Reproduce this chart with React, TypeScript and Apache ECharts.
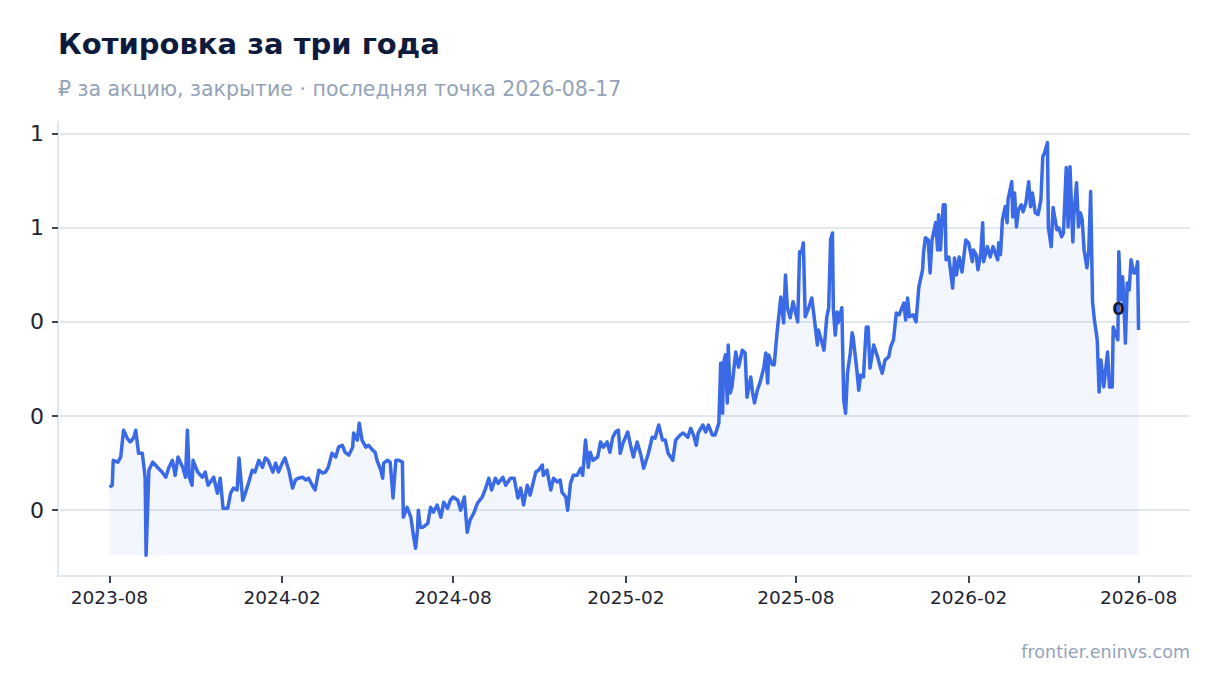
import { useEffect, useRef } from "react"
import * as echarts from "echarts"

// начало ряда и шаг (день) — точки заданы как [смещение в днях, цена]
const START = Date.UTC(2023, 7, 17)
const DAY = 86400000

const quotes2023: [number, number][] = [
  [0, 0.449], [3, 0.453], [4, 0.506], [9, 0.502], [12, 0.513], [15, 0.57], [19, 0.553], [22, 0.545],
  [24, 0.549], [26, 0.555], [28, 0.57], [31, 0.521], [35, 0.521], [38, 0.47], [39, 0.304], [42, 0.485],
  [46, 0.502], [49, 0.496], [52, 0.489], [56, 0.481], [60, 0.47], [63, 0.489], [67, 0.506], [70, 0.474],
  [73, 0.513], [78, 0.491], [81, 0.47], [83, 0.57], [85, 0.47], [88, 0.453], [89, 0.506], [94, 0.481],
  [99, 0.47], [102, 0.481], [105, 0.453], [111, 0.47], [115, 0.436], [118, 0.468], [121, 0.404],
  [126, 0.404], [129, 0.436], [132, 0.447], [136, 0.443],
]

const quotes2024: [number, number][] = [
  [138, 0.511], [142, 0.421], [145, 0.438], [148, 0.457], [152, 0.485], [155, 0.481], [159, 0.506],
  [163, 0.491], [166, 0.511], [169, 0.506], [174, 0.481], [177, 0.5], [180, 0.481], [184, 0.5],
  [187, 0.511], [191, 0.485], [195, 0.447], [198, 0.464], [201, 0.468], [206, 0.47], [209, 0.464],
  [212, 0.468], [216, 0.453], [219, 0.443], [223, 0.485], [227, 0.479], [230, 0.481], [233, 0.491],
  [237, 0.521], [241, 0.513], [244, 0.534], [248, 0.538], [251, 0.523], [255, 0.517], [259, 0.534],
  [260, 0.564], [264, 0.549], [266, 0.585], [269, 0.549], [273, 0.534], [276, 0.538], [280, 0.528],
  [283, 0.523], [285, 0.506], [289, 0.485], [291, 0.468], [292, 0.5], [296, 0.506], [299, 0.502],
  [302, 0.426], [305, 0.506], [308, 0.506], [312, 0.502], [313, 0.385], [317, 0.406], [321, 0.385],
  [324, 0.343], [326, 0.319], [328, 0.357], [329, 0.4], [331, 0.364], [334, 0.364], [339, 0.372],
  [342, 0.406], [345, 0.396], [349, 0.411], [353, 0.385], [356, 0.417], [360, 0.404], [363, 0.421],
  [366, 0.428], [371, 0.421], [374, 0.4], [376, 0.415], [378, 0.428], [381, 0.353], [384, 0.379],
  [388, 0.394], [392, 0.415], [397, 0.428], [400, 0.443], [404, 0.468], [407, 0.443], [411, 0.468],
  [414, 0.457], [419, 0.47], [422, 0.453], [427, 0.468], [431, 0.468], [435, 0.426], [438, 0.447],
  [441, 0.411], [445, 0.453], [448, 0.432], [454, 0.481], [457, 0.485], [461, 0.496], [462, 0.474],
  [466, 0.485], [470, 0.443], [473, 0.468], [477, 0.46], [480, 0.464], [482, 0.438], [486, 0.428],
  [488, 0.4], [491, 0.457], [494, 0.474], [498, 0.474], [502, 0.489],
]

const quotes2025: [number, number][] = [
  [504, 0.474], [507, 0.549], [510, 0.491], [512, 0.523], [515, 0.506], [520, 0.513], [523, 0.545],
  [526, 0.534], [530, 0.545], [533, 0.523], [536, 0.555], [539, 0.566], [542, 0.57], [544, 0.521],
  [547, 0.543], [552, 0.566], [555, 0.538], [558, 0.513], [562, 0.545], [566, 0.517], [569, 0.489],
  [574, 0.521], [578, 0.555], [581, 0.553], [585, 0.581], [589, 0.549], [592, 0.549], [595, 0.521],
  [600, 0.506], [603, 0.549], [608, 0.56], [611, 0.564], [616, 0.555], [619, 0.574], [622, 0.56],
  [625, 0.538], [627, 0.564], [632, 0.581], [635, 0.566], [638, 0.581], [642, 0.56], [645, 0.56],
  [649, 0.585], [651, 0.713], [653, 0.606], [654, 0.713], [656, 0.73], [658, 0.628], [659, 0.751],
  [661, 0.649], [663, 0.662], [667, 0.736], [670, 0.704], [674, 0.74], [677, 0.734], [679, 0.64],
  [683, 0.683], [685, 0.649], [687, 0.628], [690, 0.655], [693, 0.672], [697, 0.704], [699, 0.734],
  [701, 0.67], [702, 0.73], [706, 0.709], [708, 0.709], [711, 0.777], [715, 0.853], [718, 0.798],
  [720, 0.9], [722, 0.83], [725, 0.809], [728, 0.843], [733, 0.8], [735, 0.949], [737, 0.947],
  [739, 0.968], [741, 0.811], [744, 0.826], [748, 0.851], [750, 0.819], [754, 0.751], [755, 0.783],
  [759, 0.755], [761, 0.74], [764, 0.811], [766, 0.83], [768, 0.974], [770, 0.989], [771, 0.826],
  [773, 0.772], [775, 0.821], [776, 0.798], [780, 0.83], [782, 0.634], [784, 0.606], [786, 0.691],
  [789, 0.734], [791, 0.777], [792, 0.768], [796, 0.698], [798, 0.655], [800, 0.687], [803, 0.683],
  [806, 0.789], [808, 0.789], [810, 0.702], [814, 0.751], [818, 0.726], [821, 0.704], [823, 0.691],
  [826, 0.719], [830, 0.726], [832, 0.747], [835, 0.762], [838, 0.819], [841, 0.815], [846, 0.84],
  [848, 0.804], [850, 0.851], [852, 0.811], [856, 0.815], [859, 0.8], [862, 0.874], [866, 0.911],
  [867, 0.947],
]

const quotes2026: [number, number][] = [
  [869, 0.979], [872, 0.974], [874, 0.904], [876, 0.974], [880, 1.011], [882, 0.953], [883, 1.028],
  [885, 0.953], [888, 1.049], [890, 1.049], [891, 0.932], [894, 0.938], [898, 0.872], [900, 0.936],
  [902, 0.9], [905, 0.938], [908, 0.906], [912, 0.974], [915, 0.968], [919, 0.928], [920, 0.953],
  [923, 0.943], [925, 0.911], [928, 0.947], [930, 1.011], [931, 0.928], [935, 0.96], [938, 0.938],
  [941, 0.96], [946, 0.932], [947, 0.968], [949, 0.943], [951, 1.017], [954, 1.045], [956, 1.011],
  [957, 1.06], [961, 1.098], [962, 1.023], [964, 1.074], [966, 1.002], [968, 1.038], [971, 1.049],
  [973, 1.034], [976, 1.053], [979, 1.098], [981, 1.045], [983, 1.074], [986, 1.032], [989, 1.028],
  [992, 1.06], [994, 1.151], [996, 1.16], [999, 1.181], [1000, 1.0], [1003, 0.96], [1005, 1.043],
  [1009, 0.996], [1011, 1.0], [1014, 0.981], [1016, 0.989], [1019, 1.128], [1021, 1.002],
  [1023, 1.13], [1026, 0.97], [1027, 1.023], [1030, 1.096], [1032, 1.002], [1034, 1.032],
  [1036, 1.017], [1038, 0.953], [1041, 0.915], [1043, 0.953], [1045, 1.077], [1047, 0.843],
  [1049, 0.804], [1052, 0.762], [1054, 0.651], [1056, 0.719], [1059, 0.662], [1063, 0.736],
  [1065, 0.662], [1068, 0.662], [1069, 0.789], [1074, 0.762], [1075, 0.949], [1077, 0.847],
  [1079, 0.896], [1080, 0.862], [1082, 0.755], [1084, 0.883], [1086, 0.868], [1088, 0.932],
  [1091, 0.904], [1093, 0.904], [1095, 0.928], [1096, 0.783],
]

// подписи осей
const xTickDates = ["2023-08-17", "2024-02-17", "2024-08-17", "2025-02-17", "2025-08-17", "2026-02-17", "2026-08-17"]
const yTickValues = [0.4, 0.6, 0.8, 1.0, 1.2]

const TITLE = "Котировка за три года"
const SUBTITLE = "₽ за акцию, закрытие · последняя точка 2026-08-17"
const SOURCE = "frontier.eninvs.com"

const FONT = "DejaVu Sans"

const fmtPrice = (v: number) => String(Math.floor(v + 1e-9))
const fmtMonth = (t: number) => {
  const d = new Date(t)
  return `${d.getUTCFullYear()}-${String(d.getUTCMonth() + 1).padStart(2, "0")}`
}

export default function App() {
  const chartRef = useRef<HTMLDivElement>(null)

  useEffect(() => {
    if (!chartRef.current) return
    const chart = echarts.init(chartRef.current, null, { renderer: "svg" })

    const quotes = [...quotes2023, ...quotes2024, ...quotes2025, ...quotes2026]
    const data = quotes.map(([d, v]) => [START + d * DAY, v])
    const values = quotes.map((q) => q[1])
    const vMin = Math.min(...values)
    const vMax = Math.max(...values)
    const vPad = (vMax - vMin) * 0.05
    const tFirst = data[0][0]
    const tLast = data[data.length - 1][0]
    const tPad = (tLast - tFirst) * 0.05
    const last = data[data.length - 1]
    const xTicks = xTickDates.map((s) => Date.parse(s))

    chart.setOption({
      animation: false,
      textStyle: { fontFamily: FONT },
      title: [
        {
          text: TITLE,
          left: 53,
          top: 24,
          textStyle: { fontFamily: FONT, fontSize: 29, fontWeight: "bold", color: "#0f1b3d" },
        },
        {
          text: SUBTITLE,
          left: 53,
          top: 73,
          textStyle: { fontFamily: FONT, fontSize: 20.5, fontWeight: "normal", color: "#94a3b8" },
        },
        {
          text: SOURCE,
          right: 25,
          top: 638,
          textStyle: { fontFamily: FONT, fontSize: 17.5, fontWeight: "normal", color: "#94a3b8" },
        },
      ],
      grid: { left: 58, right: 30, top: 122, bottom: 117, containLabel: false },
      xAxis: {
        type: "value",
        min: tFirst - tPad,
        max: tLast + tPad,
        axisLine: { show: true, lineStyle: { color: "#e2e8f0", width: 2 } },
        axisTick: {
          show: true,
          length: 7,
          customValues: xTicks,
          lineStyle: { color: "#3f4656", width: 2 },
        },
        axisLabel: {
          customValues: xTicks,
          formatter: (v: number) => fmtMonth(v),
          fontFamily: FONT,
          fontSize: 18.5,
          color: "#1e2433",
          margin: 12,
        },
        splitLine: { show: false },
      },
      yAxis: {
        type: "value",
        min: vMin - vPad,
        max: vMax + vPad,
        axisLine: { show: true, lineStyle: { color: "#e2e8f0", width: 2 } },
        axisTick: {
          show: true,
          length: 6,
          customValues: yTickValues,
          lineStyle: { color: "#3f4656", width: 2 },
        },
        axisLabel: {
          customValues: yTickValues,
          formatter: (v: number) => fmtPrice(v),
          fontFamily: FONT,
          fontSize: 22,
          color: "#1e2433",
          margin: 14,
        },
        splitLine: { show: true, lineStyle: { color: "#e2e8f0", width: 2 } },
      },
      series: [
        {
          type: "line",
          data,
          showSymbol: false,
          symbol: "none",
          lineStyle: { color: "#3a6ae6", width: 3.5, join: "round" },
          itemStyle: { color: "#3a6ae6" },
          areaStyle: { color: "rgba(58,106,230,0.09)", origin: vMin },
          markPoint: {
            symbol: "circle",
            symbolSize: 1,
            itemStyle: { color: "rgba(0,0,0,0)" },
            data: [{ coord: last, value: last[1] }],
            label: {
              show: true,
              position: "inside",
              offset: [-20, -21],
              formatter: () => fmtPrice(last[1]),
              fontFamily: FONT,
              fontSize: 18,
              fontWeight: "bold",
              color: "#0f1b3d",
            },
          },
        },
      ],
    })

    return () => {
      chart.dispose()
    }
  }, [])

  return (
    <div
      ref={chartRef}
      style={{ position: "fixed", left: 0, top: 0, width: 1220, height: 693, background: "#ffffff" }}
    />
  )
}
